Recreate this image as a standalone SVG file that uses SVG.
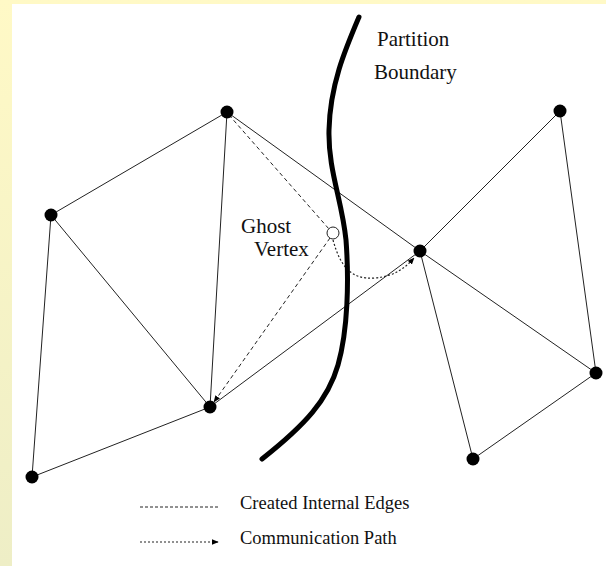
<svg xmlns="http://www.w3.org/2000/svg" width="606" height="566" viewBox="0 0 606 566">
<defs>
<linearGradient id="bg" x1="0" y1="0" x2="0" y2="1">
<stop offset="0" stop-color="#FFF9C6"/>
<stop offset="1" stop-color="#EEEEC6"/>
</linearGradient>
<marker id="arr" viewBox="0 0 10 10" refX="9" refY="5" markerWidth="7" markerHeight="7" orient="auto" markerUnits="userSpaceOnUse">
<path d="M0,1 L10,5 L0,9 Z" fill="#000"/>
</marker>
<style>
.e{stroke:#222;stroke-width:1;fill:none}
.dash{stroke:#222;stroke-width:1;fill:none;stroke-dasharray:4,3}
.ldash{stroke:#222;stroke-width:1;fill:none;stroke-dasharray:3,2}
.dot{stroke:#222;stroke-width:1.2;fill:none;stroke-dasharray:2,2}
.v{fill:#000}
.t{font-family:"Liberation Serif","Times New Roman",serif;font-size:21px;fill:#111}
.lt{font-family:"Liberation Serif","Times New Roman",serif;font-size:18.5px;fill:#111}
</style>
</defs>
<rect x="0" y="0" width="606" height="566" fill="url(#bg)"/>
<rect x="12" y="4" width="594" height="562" fill="#FFFFFF"/>
<g id="connectors">
<line class="e" x1="227" y1="112" x2="51" y2="215"/>
<line class="e" x1="227" y1="112" x2="210" y2="407"/>
<line class="e" x1="51" y1="215" x2="210" y2="407"/>
<line class="e" x1="51" y1="215" x2="32" y2="477"/>
<line class="e" x1="32" y1="477" x2="210" y2="407"/>
<line class="e" x1="227" y1="112" x2="420" y2="251"/>
<line class="e" x1="210" y1="407" x2="420" y2="251"/>
<line class="e" x1="420" y1="251" x2="560" y2="111"/>
<line class="e" x1="560" y1="111" x2="596" y2="373"/>
<line class="e" x1="420" y1="251" x2="596" y2="373"/>
<line class="e" x1="420" y1="251" x2="473" y2="459"/>
<line class="e" x1="473" y1="459" x2="596" y2="373"/>
<line class="dash" x1="229" y1="115" x2="329" y2="229"/>
<line class="dash" x1="330" y1="238" x2="214" y2="402" marker-end="url(#arr)"/>
<path class="dot" d="M333,240 C340,265 350,280 375,278 C395,276 405,268 414,258" marker-end="url(#arr)"/>
</g>
<g id="boundary">
<path d="M359,17 C345,50 330,85 329,130 C328,170 342,200 346,240 C349,280 348,330 338,365 C328,400 305,425 262,459" fill="none" stroke="#000" stroke-width="5" stroke-linecap="round"/>
<text class="t" x="377" y="46">Partition</text>
<text class="t" x="374" y="79">Boundary</text>
</g>
<g id="ghost">
<circle cx="333" cy="233" r="6" fill="#fff" stroke="#222" stroke-width="1"/>
<text class="t" x="241" y="233">Ghost</text>
<text class="t" x="254" y="256">Vertex</text>
</g>
<g id="vA"><circle class="v" cx="227" cy="112" r="6.5"/></g>
<g id="vB"><circle class="v" cx="51" cy="215" r="6.5"/></g>
<g id="vC"><circle class="v" cx="210" cy="407" r="6.5"/></g>
<g id="vD"><circle class="v" cx="32" cy="477" r="6.5"/></g>
<g id="vE"><circle class="v" cx="420" cy="251" r="6.5"/></g>
<g id="vF"><circle class="v" cx="560" cy="111" r="6.5"/></g>
<g id="vG"><circle class="v" cx="596" cy="373" r="6.5"/></g>
<g id="vH"><circle class="v" cx="473" cy="459" r="6.5"/></g>
<g id="legend">
<line class="ldash" x1="140" y1="507" x2="218" y2="507"/>
<text class="lt" x="240" y="509">Created Internal Edges</text>
<line class="dot" x1="140" y1="542" x2="218" y2="542" marker-end="url(#arr)"/>
<text class="lt" x="240" y="544">Communication Path</text>
</g>
</svg>
